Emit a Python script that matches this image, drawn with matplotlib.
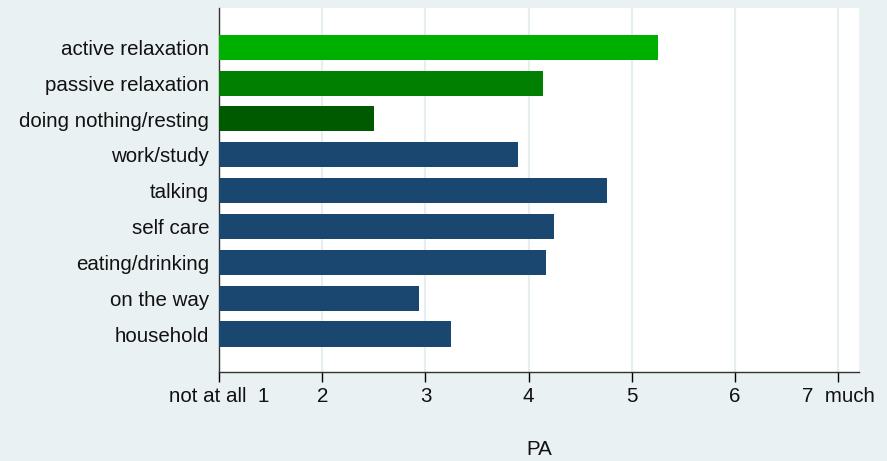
import matplotlib.pyplot as plt
import numpy as np

plt.rcParams['font.family'] = ['Liberation Sans', 'DejaVu Sans']

# activities, top to bottom
activities = ["active relaxation", "passive relaxation", "doing nothing/resting",
              "work/study", "talking", "self care", "eating/drinking",
              "on the way", "household"]
pa_values = [5.25, 4.14, 2.50, 3.90, 4.76, 4.25, 4.17, 2.94, 3.25]
bar_colors = ["#00B000", "#007F00", "#005A00"] + ["#1A476F"] * 6

tick_pos = [1, 2, 3, 4, 5, 6, 7]
tick_labels = ["not at all  1", "2", "3", "4", "5", "6", "7  much"]

bg = "#EAF1F3"

fig = plt.figure(figsize=(8.872, 4.612), dpi=100)
fig.patch.set_facecolor(bg)
ax = fig.add_axes([0.2469, 0.193, 0.7210, 0.7896])

ypos = np.arange(len(activities))[::-1]
ax.barh(ypos, np.array(pa_values) - 1, left=1, height=0.70, color=bar_colors, zorder=3)

ax.set_xlim(1, 7.2)
ax.set_ylim(-1.06, 9.1)
ax.set_yticks(ypos)
ax.set_yticklabels(activities, fontsize=14.8, color="#111111")
ax.tick_params(axis='y', length=0, pad=7)

ax.set_xticks(tick_pos)
ax.set_xticklabels(tick_labels, fontsize=14.8, color="#111111")
ax.tick_params(axis='x', length=7, width=1, direction='out', pad=4)

ax.grid(axis='x', color="#E6EEF0", linewidth=1.6, zorder=0)
ax.set_axisbelow(True)

for s in ['top', 'right']:
    ax.spines[s].set_visible(False)
for s in ['left', 'bottom']:
    ax.spines[s].set_color("#333333")
    ax.spines[s].set_linewidth(1)

ax.set_xlabel("PA", fontsize=14.8, color="#111111", labelpad=24)

fig.savefig("out.png", dpi=100, facecolor=bg)
